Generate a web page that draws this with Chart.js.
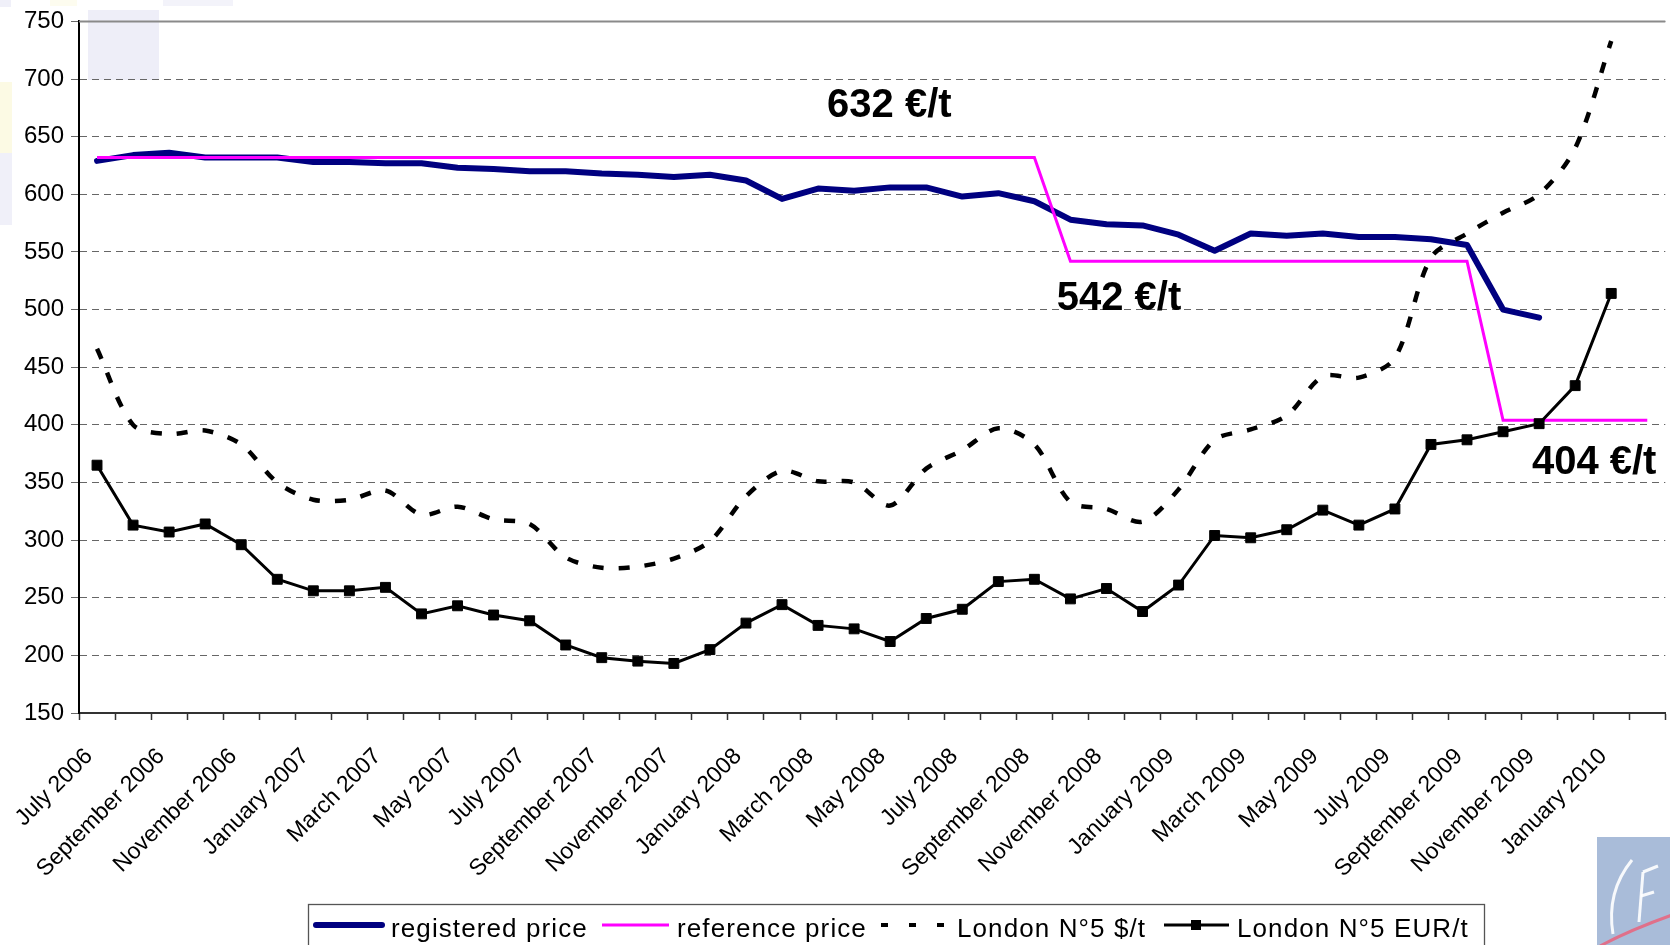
<!DOCTYPE html>
<html><head><meta charset="utf-8">
<script src="https://cdn.jsdelivr.net/npm/chart.js@4.4.0/dist/chart.umd.min.js"></script>
<style>
html,body{margin:0;padding:0;overflow:hidden;background:#fff;width:1670px;height:945px}
#wrap{position:absolute;left:0;top:0;width:1690px;height:945px}
</style>
</head><body><div id="wrap"><canvas id="c" width="1690" height="945"></canvas></div>
<script>
const months = [
 'July 2006','August 2006','September 2006','October 2006','November 2006','December 2006',
 'January 2007','February 2007','March 2007','April 2007','May 2007','June 2007',
 'July 2007','August 2007','September 2007','October 2007','November 2007','December 2007',
 'January 2008','February 2008','March 2008','April 2008','May 2008','June 2008',
 'July 2008','August 2008','September 2008','October 2008','November 2008','December 2008',
 'January 2009','February 2009','March 2009','April 2009','May 2009','June 2009',
 'July 2009','August 2009','September 2009','October 2009','November 2009','December 2009',
 'January 2010','February 2010'
];
const registeredPrice = [629,634,636,632,632,632,628,628,627,627,623,622,620,620,618,617,615,617,612,596,605,603,606,606,598,601,594,578,574,573,565,551,566,564,566,563,563,561,556,500,493,null,null,null];
const referencePrice = [632,632,632,632,632,632,632,632,632,632,632,632,632,632,632,632,632,632,632,632,632,632,632,632,632,632,632,542,542,542,542,542,542,542,542,542,542,542,542,404,404,404,404,404];
const londonUSD = [466,400,392,395,383,350,335,335,343,322,329,318,314,285,276,277,284,299,338,360,351,350,330,362,378,397,383,333,327,316,344,387,396,408,442,441,458,545,566,584,600,640,733,null];
const londonEUR = [365,313,307,314,296,266,256,256,259,236,243,235,230,209,198,195,193,205,228,244,226,223,212,232,240,264,266,249,258,238,261,304,302,309,326,313,327,383,387,394,401,434,514,null];
const seriesNames = ['registered price','reference price','London N°5 $/t','London N°5 EUR/t'];
const yMin = 150, yMax = 750, yStep = 50;
const annotationTexts = ['632 €/t','542 €/t','404 €/t'];
const annotationAt = [20.25, 26.62, 39.8];
const annotationValue = [677, 509, 367];

const FONT = '"Liberation Sans", Arial, sans-serif';

const decoPlugin = {
  id: 'deco',
  beforeDraw(chart) {
    const ctx = chart.ctx;
    ctx.save();
    ctx.fillStyle = '#fff';
    ctx.fillRect(0, 0, chart.width, chart.height);
    // faint slide background decorations
    ctx.fillStyle = '#EEEEF8'; ctx.fillRect(88, 10, 71, 70);
    ctx.fillStyle = '#FCFAE4'; ctx.fillRect(0, 82, 12, 71);
    ctx.fillStyle = '#F0F0F9'; ctx.fillRect(0, 153, 12, 72);
    ctx.fillStyle = '#F0F0F9'; ctx.fillRect(0, 0, 11, 7);
    ctx.fillStyle = '#FDFCEF'; ctx.fillRect(50, 0, 27, 6);
    ctx.fillStyle = '#F3F3FA'; ctx.fillRect(163, 0, 70, 6);
    // logo box bottom-right
    ctx.fillStyle = '#A9BCD9'; ctx.fillRect(1597, 837, 80, 110);
    ctx.strokeStyle = 'rgba(255,255,255,0.9)'; ctx.lineWidth = 3;
    ctx.beginPath(); ctx.moveTo(1632, 860); ctx.quadraticCurveTo(1606, 892, 1613, 934); ctx.stroke();
    ctx.beginPath(); ctx.moveTo(1643, 872); ctx.lineTo(1639, 922); ctx.stroke();
    ctx.beginPath(); ctx.moveTo(1643, 872); ctx.lineTo(1658, 866); ctx.stroke();
    ctx.beginPath(); ctx.moveTo(1641, 896); ctx.lineTo(1654, 892); ctx.stroke();
    ctx.strokeStyle = '#E0708A'; ctx.lineWidth = 3;
    ctx.beginPath(); ctx.moveTo(1600, 946); ctx.quadraticCurveTo(1630, 930, 1672, 915); ctx.stroke();
    ctx.restore();
  },
  beforeDatasetsDraw(chart) {
    const {ctx, chartArea} = chart;
    ctx.save();
    ctx.strokeStyle = '#8a8a8a'; ctx.lineWidth = 2;
    ctx.beginPath(); ctx.moveTo(chartArea.left, chartArea.top); ctx.lineTo(chartArea.right, chartArea.top); ctx.stroke();
    ctx.restore();
  },
  afterDatasetsDraw(chart) {
    const {ctx, scales: {x, y}} = chart;
    ctx.save();
    ctx.font = 'bold 40px ' + FONT;
    ctx.fillStyle = '#000';
    ctx.textAlign = 'left';
    ctx.textBaseline = 'middle';
    annotationTexts.forEach((t, i) => ctx.fillText(t, x.getPixelForValue(annotationAt[i]), y.getPixelForValue(annotationValue[i])));
    ctx.restore();
  },
  afterDraw(chart) {
    const ctx = chart.ctx;
    ctx.save();
    // legend box
    ctx.strokeStyle = '#555'; ctx.lineWidth = 1.3;
    ctx.strokeRect(308.5, 904.5, 1176, 60);
    const my = 925;
    ctx.lineCap = 'round';
    ctx.strokeStyle = '#000080'; ctx.lineWidth = 6;
    ctx.beginPath(); ctx.moveTo(316, my); ctx.lineTo(382, my); ctx.stroke();
    ctx.lineCap = 'butt';
    ctx.strokeStyle = '#FF00FF'; ctx.lineWidth = 3;
    ctx.beginPath(); ctx.moveTo(602, my); ctx.lineTo(669, my); ctx.stroke();
    ctx.strokeStyle = '#000'; ctx.lineWidth = 4;
    ctx.setLineDash([7, 21]);
    ctx.beginPath(); ctx.moveTo(881, my); ctx.lineTo(950, my); ctx.stroke();
    ctx.setLineDash([]);
    ctx.lineWidth = 3;
    ctx.beginPath(); ctx.moveTo(1164, my); ctx.lineTo(1229, my); ctx.stroke();
    ctx.fillStyle = '#000'; ctx.fillRect(1191, my - 5, 10, 10);
    ctx.font = '26px ' + FONT;
    if ('letterSpacing' in ctx) ctx.letterSpacing = '1.1px';
    ctx.textAlign = 'left'; ctx.textBaseline = 'alphabetic';
    const tx = [391, 677, 957, 1237];
    seriesNames.forEach((n, i) => ctx.fillText(n, tx[i], 937));
    ctx.restore();
  }
};

new Chart(document.getElementById('c'), {
  type: 'line',
  data: {
    labels: months,
    datasets: [
      {label: seriesNames[0], data: registeredPrice, borderColor: '#000080', backgroundColor: '#000080', borderWidth: 6, pointRadius: 0, tension: 0, borderJoinStyle: 'round', borderCapStyle: 'round', order: 4},
      {label: seriesNames[1], data: referencePrice, borderColor: '#FF00FF', backgroundColor: '#FF00FF', borderWidth: 3, pointRadius: 0, tension: 0, order: 3},
      {label: seriesNames[2], data: londonUSD, borderColor: '#000', backgroundColor: '#000', borderWidth: 4.5, borderDash: [11, 15], pointRadius: 0, tension: 0.3, order: 2},
      {label: seriesNames[3], data: londonEUR, borderColor: '#000', backgroundColor: '#000', borderWidth: 3, pointStyle: 'rect', pointRadius: 7, pointBorderWidth: 1, pointBackgroundColor: '#000', pointBorderColor: '#000', tension: 0, order: 1}
    ]
  },
  options: {
    responsive: false,
    animation: false,
    devicePixelRatio: 1,
    events: [],
    layout: {padding: {top: 19, right: 18, bottom: 0, left: 0}},
    plugins: {legend: {display: false}, tooltip: {enabled: false}},
    scales: {
      x: {
        type: 'category',
        offset: true,
        grid: {display: true, offset: true, drawOnChartArea: false, drawTicks: true, tickLength: 7, tickColor: '#333', tickWidth: 1.5},
        border: {display: true, color: '#333', width: 2},
        ticks: {
          autoSkip: false, maxRotation: 45, minRotation: 45, color: '#000',
          font: {family: FONT, size: 23}, padding: 23, labelOffset: -8,
          callback: (v, i) => (i % 2 === 0 ? months[i] : '')
        },
        afterFit(s) { s.height = 232; }
      },
      y: {
        min: yMin, max: yMax,
        ticks: {stepSize: yStep, color: '#000', font: {family: FONT, size: 24}, padding: 7},
        grid: {color: '#666', lineWidth: 1, tickLength: 8, drawTicks: true, tickColor: '#666', tickBorderDash: []},
        border: {display: true, color: '#000', width: 2, dash: [7, 5]},
        afterFit(s) { s.width = 79; }
      }
    }
  },
  plugins: [decoPlugin]
});
</script>
</body></html>
